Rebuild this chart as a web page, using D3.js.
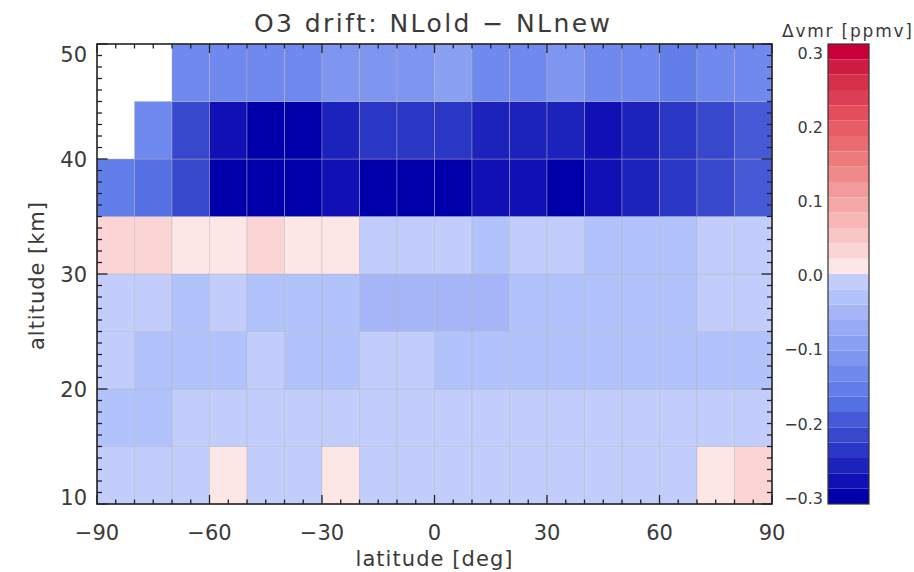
<!DOCTYPE html>
<html>
<head>
<meta charset="utf-8">
<script src="https://cdn.jsdelivr.net/npm/d3@7/dist/d3.min.js"></script>
<style>
  html, body { margin: 0; padding: 0; background: #fff; }
  svg { display: block; font-family: "DejaVu Sans", sans-serif; }
  text { fill: #3a3a3a; }
</style>
</head>
<body>
<script>
// Latitude bin centres (10° bins) and altitude bin centres (5 km bins)
const latitudes = [-85, -75, -65, -55, -45, -35, -25, -15, -5, 5, 15, 25, 35, 45, 55, 65, 75, 85];
const altitudes = [12.5, 17.5, 22.5, 27.5, 32.5, 37.5, 42.5, 47.5];

// O3 drift NLold − NLnew per altitude band [ppmv]; null = no data
const drift12 = [-0.01, -0.01, -0.01, 0.01, -0.01, -0.01, 0.01, -0.01, -0.01, -0.01, -0.01, -0.01, -0.01, -0.01, -0.01, -0.01, 0.01, 0.03];
const drift17 = [-0.03, -0.03, -0.01, -0.01, -0.01, -0.01, -0.01, -0.01, -0.01, -0.01, -0.01, -0.01, -0.01, -0.01, -0.01, -0.01, -0.01, -0.01];
const drift22 = [-0.01, -0.03, -0.03, -0.03, -0.01, -0.03, -0.03, -0.01, -0.01, -0.03, -0.03, -0.03, -0.03, -0.03, -0.03, -0.03, -0.03, -0.03];
const drift27 = [-0.01, -0.01, -0.03, -0.01, -0.03, -0.03, -0.03, -0.05, -0.05, -0.05, -0.05, -0.03, -0.03, -0.03, -0.03, -0.03, -0.01, -0.01];
const drift32 = [0.03, 0.03, 0.01, 0.01, 0.03, 0.01, 0.01, -0.01, -0.01, -0.01, -0.03, -0.01, -0.01, -0.03, -0.03, -0.03, -0.01, -0.01];
const drift37 = [-0.15, -0.17, -0.21, -0.29, -0.29, -0.29, -0.27, -0.29, -0.29, -0.29, -0.27, -0.27, -0.29, -0.27, -0.25, -0.23, -0.21, -0.19];
const drift42 = [null, -0.13, -0.21, -0.27, -0.29, -0.29, -0.25, -0.23, -0.23, -0.23, -0.25, -0.25, -0.25, -0.27, -0.25, -0.23, -0.21, -0.19];
const drift47 = [null, null, -0.13, -0.13, -0.13, -0.13, -0.11, -0.11, -0.11, -0.09, -0.13, -0.13, -0.11, -0.13, -0.13, -0.15, -0.13, -0.13];
const driftRows = [drift12, drift17, drift22, drift27, drift32, drift37, drift42, drift47];

// Tick values
const latTicks = [-90, -60, -30, 0, 30, 60, 90];
const altTicks = [10, 20, 30, 40, 50];
const cbarTicks = [-0.3, -0.2, -0.1, 0.0, 0.1, 0.2, 0.3];

// Discrete palette: 15 blue steps (light → dark) and 15 red steps (light → dark)
const bluePalette = ['#c2cdfb', '#b2c2fa', '#a5b5f7', '#98aaf5', '#8aa0f2', '#7f96f0', '#7089ee',
                     '#627fe9', '#5570e3', '#4659d6', '#3848cd', '#2a36c4', '#1c22bc', '#1010b4', '#0000aa'];
const redPalette  = ['#fde6e6', '#fbd5d5', '#f9c6c6', '#f7b7b7', '#f5a8a8', '#f39a9a', '#f08a8a',
                     '#ee7b7b', '#ea6c70', '#e65d66', '#e24e5c', '#dc3f53', '#d62f4a', '#cf1c42', '#c8003a'];

const W = 914, H = 572;
const plot = { left: 97, right: 772, top: 44, bottom: 504 };
const bar = { left: 828, right: 869 };

const svg = d3.select('body').append('svg').attr('width', W).attr('height', H);

const x = d3.scaleLinear().domain([-90, 90]).range([plot.left, plot.right]);
const y = d3.scaleLinear().domain([10, 50]).range([plot.bottom, plot.top]);
const color = d3.scaleQuantize().domain([-0.3, 0.3])
  .range(bluePalette.slice().reverse().concat(redPalette));

const latHalf = (latitudes[1] - latitudes[0]) / 2;
const altHalf = (altitudes[1] - altitudes[0]) / 2;

// Cells
const cells = [];
driftRows.forEach((row, r) => row.forEach((v, c) => {
  if (v !== null) cells.push({ lat: latitudes[c], alt: altitudes[r], v });
}));

svg.append('g').selectAll('rect').data(cells).join('rect')
  .attr('x', d => x(d.lat - latHalf))
  .attr('y', d => y(d.alt + altHalf))
  .attr('width', d => x(d.lat + latHalf) - x(d.lat - latHalf))
  .attr('height', d => y(d.alt - altHalf) - y(d.alt + altHalf))
  .attr('fill', d => color(d.v))
  .attr('stroke', '#b4b4bc')
  .attr('stroke-opacity', 0.4)
  .attr('stroke-width', 1);

// Frame and ticks (all ticks point into the plot)
const axes = svg.append('g').attr('stroke', '#222').attr('fill', 'none');
const minorLat = d3.range(-90, 91, 5);
const minorAlt = d3.range(10, 51, 1);
const tickLen = (v, majors, major, minor) => majors.includes(v) ? major : minor;

minorLat.forEach(v => {
  const len = tickLen(v, latTicks, 9, 4.5);
  axes.append('line').attr('x1', x(v)).attr('x2', x(v))
    .attr('y1', plot.bottom).attr('y2', plot.bottom - len).attr('stroke-width', 1.3);
  axes.append('line').attr('x1', x(v)).attr('x2', x(v))
    .attr('y1', plot.top).attr('y2', plot.top + len).attr('stroke-width', 1.3);
});
minorAlt.forEach(v => {
  const len = tickLen(v, altTicks, 10.5, 5);
  axes.append('line').attr('x1', plot.left).attr('x2', plot.left + len)
    .attr('y1', y(v)).attr('y2', y(v)).attr('stroke-width', 1.3);
  axes.append('line').attr('x1', plot.right).attr('x2', plot.right - len)
    .attr('y1', y(v)).attr('y2', y(v)).attr('stroke-width', 1.3);
});
axes.append('rect')
  .attr('x', plot.left).attr('y', plot.top)
  .attr('width', plot.right - plot.left).attr('height', plot.bottom - plot.top)
  .attr('stroke-width', 1.6);

// Tick labels
const fmtLat = d3.format('d');
svg.append('g').selectAll('text').data(latTicks).join('text')
  .attr('x', d => x(d)).attr('y', plot.bottom + 36)
  .attr('text-anchor', 'middle').attr('font-size', 21)
  .text(d => fmtLat(d));

svg.append('g').selectAll('text').data(altTicks).join('text')
  .attr('x', plot.left - 10)
  .attr('y', d => Math.min(Math.max(y(d), plot.top + 10), plot.bottom - 7))
  .attr('dy', '0.36em')
  .attr('text-anchor', 'end').attr('font-size', 21)
  .text(d => d);

// Titles
svg.append('text')
  .attr('x', 432).attr('y', 32)
  .attr('text-anchor', 'middle').attr('font-size', 25)
  .attr('textLength', 356).attr('lengthAdjust', 'spacing')
  .text('O3 drift: NLold \u2212 NLnew');

svg.append('text')
  .attr('x', 434).attr('y', 566)
  .attr('text-anchor', 'middle').attr('font-size', 21)
  .attr('textLength', 157).attr('lengthAdjust', 'spacing')
  .text('latitude [deg]');

svg.append('text')
  .attr('transform', 'translate(44,276) rotate(-90)')
  .attr('text-anchor', 'middle').attr('font-size', 21)
  .attr('textLength', 148).attr('lengthAdjust', 'spacing')
  .text('altitude [km]');

// Colour bar
const cy = d3.scaleLinear().domain([-0.3, 0.3]).range([plot.bottom, plot.top]);
const edges = [-0.3, ...color.thresholds(), 0.3];
const bands = d3.pairs(edges);

svg.append('g').selectAll('rect').data(bands).join('rect')
  .attr('x', bar.left).attr('width', bar.right - bar.left)
  .attr('y', d => cy(d[1])).attr('height', d => cy(d[0]) - cy(d[1]))
  .attr('fill', d => color((d[0] + d[1]) / 2));

svg.append('rect')
  .attr('x', bar.left).attr('y', plot.top)
  .attr('width', bar.right - bar.left).attr('height', plot.bottom - plot.top)
  .attr('fill', 'none').attr('stroke', '#333').attr('stroke-width', 1.2);

// Colour bar labels sit on a slightly compressed span so the end labels stay inside
const cyLabel = d3.scaleLinear().domain([-0.3, 0.3]).range([plot.bottom - 6, plot.top + 9]);
const fmtBar = d3.format('.1f');
svg.append('g').selectAll('text').data(cbarTicks).join('text')
  .attr('x', bar.left - 5).attr('y', d => cyLabel(d))
  .attr('dy', '0.36em')
  .attr('text-anchor', 'end').attr('font-size', 16)
  .text(d => fmtBar(d));

svg.append('text')
  .attr('x', 847).attr('y', 37)
  .attr('text-anchor', 'middle').attr('font-size', 17)
  .attr('textLength', 130).attr('lengthAdjust', 'spacing')
  .text('\u0394vmr [ppmv]');
</script>
</body>
</html>
